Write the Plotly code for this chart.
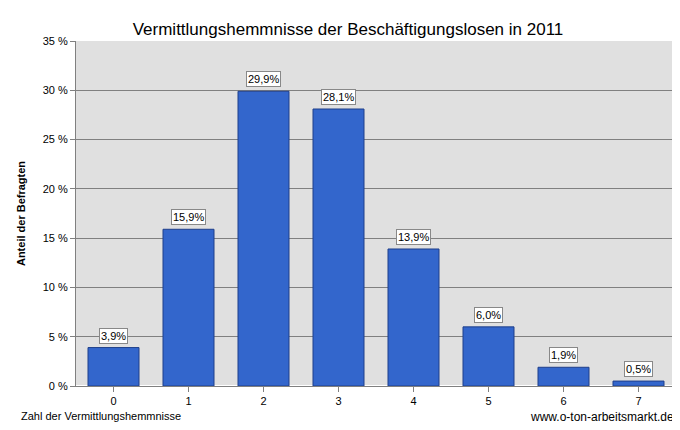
import plotly.graph_objects as go

categories = ["0", "1", "2", "3", "4", "5", "6", "7"]
values = [3.9, 15.9, 29.9, 28.1, 13.9, 6.0, 1.9, 0.5]
tick_vals = [0, 5, 10, 15, 20, 25, 30, 35]
tick_text = [f"{v} %" for v in tick_vals]

fig = go.Figure(go.Bar(
    x=categories, y=values, marker=dict(color="#3366cc", line=dict(color="#1f3f8a", width=1)),
    width=0.68,
))
for c, v in zip(categories, values):
    fig.add_annotation(x=c, y=v, text=f"{v:.1f}".replace(".", ",") + "%", yshift=12,
                       showarrow=False, bgcolor="white", bordercolor="#888", borderwidth=1,
                       borderpad=1, font=dict(size=11, color="black", family="Arial"))
fig.update_layout(
    width=680, height=430, margin=dict(l=68, r=12, t=33, b=52),
    paper_bgcolor="white", plot_bgcolor="#e0e0e0",
    font=dict(family="Arial", size=11, color="black"),
    title=dict(text="Vermittlungshemmnisse der Beschäftigungslosen in 2011", x=0.5, y=0.965,
               xanchor="center", font=dict(size=17)),
    showlegend=False, bargap=0.32,
    xaxis=dict(showline=True, linecolor="#808080", ticks="outside", tickcolor="#808080"),
    yaxis=dict(range=[0, 35], tickvals=tick_vals, ticktext=tick_text, gridcolor="#808080",
               showline=True, linecolor="#808080", ticks="outside", tickcolor="#808080",
               title=dict(text="<b>Anteil der Befragten</b>", font=dict(size=11), standoff=14)),
)
fig.add_annotation(xref="paper", yref="paper", x=-0.095, y=0, yshift=-22, xanchor="left", yanchor="top",
                   text="Zahl der Vermittlungshemmnisse", showarrow=False, font=dict(size=11))
fig.add_annotation(xref="paper", yref="paper", x=1.0, y=0, yshift=-22, xanchor="right", yanchor="top",
                   text="www.o-ton-arbeitsmarkt.de", showarrow=False, font=dict(size=12))
fig.write_html("out.html")
